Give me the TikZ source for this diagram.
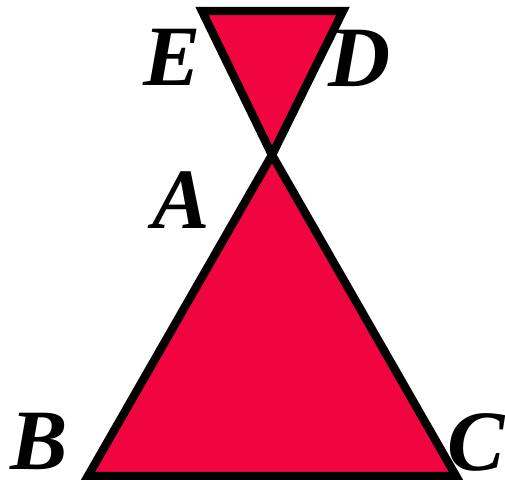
\documentclass[tikz,border=0pt]{standalone}
\usepackage{fontspec}
\setmainfont{Liberation Serif}
\definecolor{wedge}{RGB}{240,5,65}
\tikzset{lbl/.style={font=\fontsize{43}{43}\selectfont\bfseries\itshape,inner sep=0pt}}

\begin{document}
\begin{tikzpicture}[x=0.5pt,y=-0.5pt,line width=4.2pt]
  \useasboundingbox (0,0) rectangle (505,480);
  % vertices
  \coordinate (A) at (272,155);
  \coordinate (B) at (88,476);
  \coordinate (C) at (456,476);
  \coordinate (D) at (343,11);
  \coordinate (E) at (202,11);
  \filldraw[fill=wedge] (E) -- (D) -- (A) -- cycle;
  \filldraw[fill=wedge] (A) -- (B) -- (C) -- cycle;
  % labels
  \node[lbl] (lE) at (172,57) {E};
  \node[lbl] (lD) at (360,58) {D};
  \node[lbl] (lA) at (181,200) {A};
  \node[lbl] (lB) at (39,441) {B};
  \node[lbl] (lC) at (476,442) {C};
\end{tikzpicture}
\end{document}
